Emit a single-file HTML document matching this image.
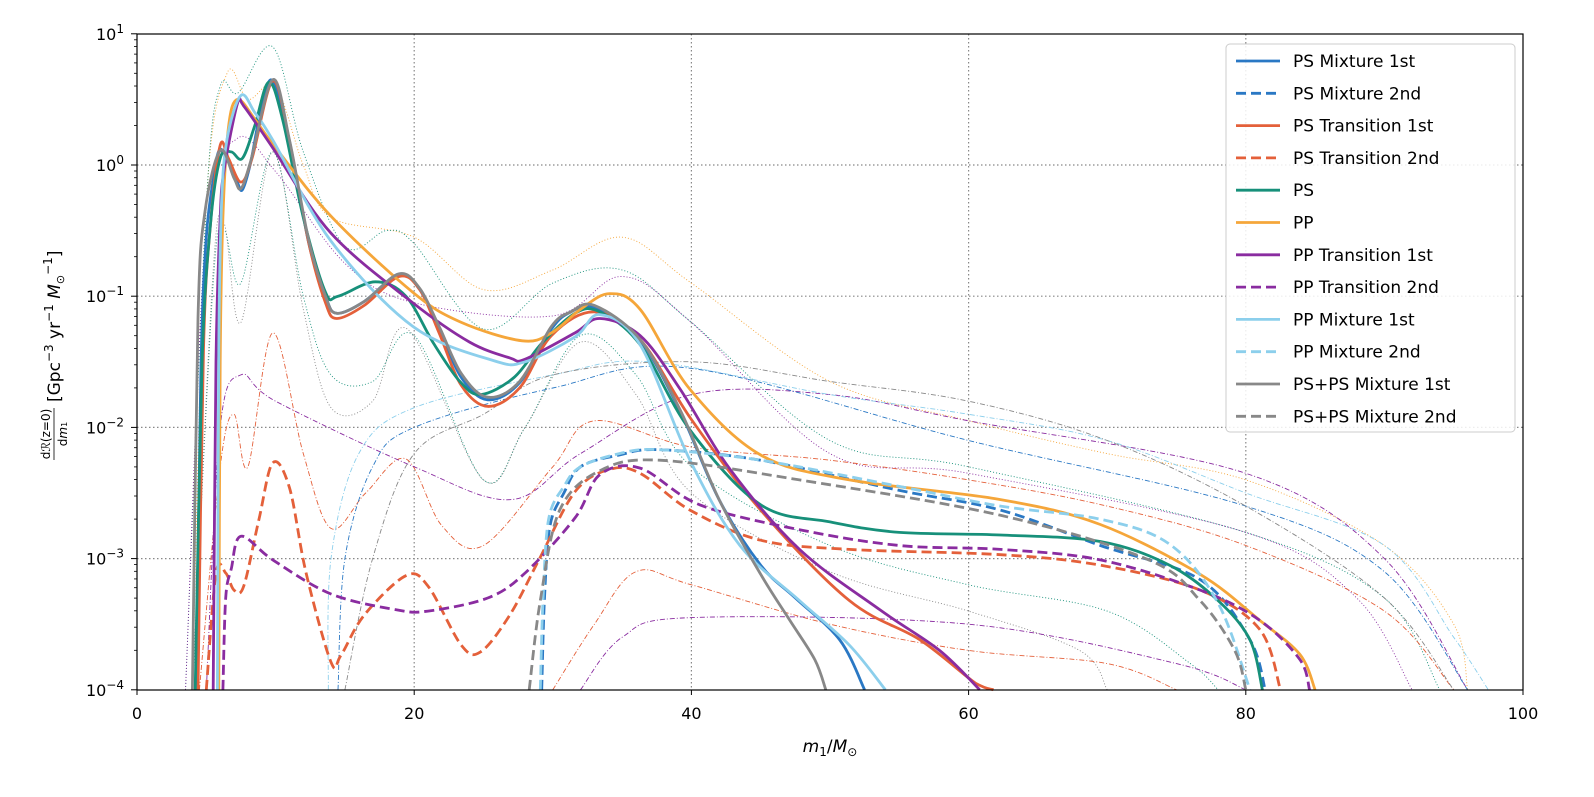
<!DOCTYPE html>
<html><head><meta charset="utf-8"><style>
html,body{margin:0;padding:0;background:#fff;overflow:hidden;width:1594px;height:797px;}
svg{display:block;position:absolute;left:0;top:0;font-family:"DejaVu Sans","Liberation Sans",sans-serif;}
</style></head><body>
<svg id="chart" width="1594" height="797" viewBox="0 0 1594 797">
<g id="grid"></g>
<g id="thin"></g>
<g id="main"></g>
<rect x="137" y="34" width="1386" height="656" fill="none" stroke="#000" stroke-width="1.2"/>
<g id="axes"></g>
<text x="830" y="752" font-size="17" text-anchor="middle"><tspan font-style="italic">m</tspan><tspan font-size="12" dy="4">1</tspan><tspan dy="-4">/</tspan><tspan font-style="italic">M</tspan><tspan font-size="12" dy="4">⊙</tspan></text>
<g transform="translate(50,362) rotate(-90)">
<text x="-72" y="0" font-size="12" text-anchor="middle">d<tspan font-style="italic">ℛ</tspan>(z=0)</text>
<line x1="-98" y1="4" x2="-46" y2="4" stroke="#000" stroke-width="0.8"/>
<text x="-72" y="17" font-size="12" text-anchor="middle">d<tspan font-style="italic">m</tspan><tspan font-size="8">1</tspan></text>
<text x="-40" y="10" font-size="17">[Gpc<tspan font-size="12" dy="-7">−3</tspan><tspan dy="7"> yr</tspan><tspan font-size="12" dy="-7">−1</tspan><tspan dy="7"> </tspan><tspan font-style="italic">M</tspan><tspan font-size="11" dy="4">⊙</tspan><tspan font-size="12" dy="-12">−1</tspan><tspan dy="8">]</tspan></text>
</g>
<g id="legend"></g>
</svg>
<script>
const xTicks=[0,20,40,60,80,100];
const yExps=[1,0,-1,-2,-3,-4];
// series: [mass, log10(rate)]
const psMix1=[[4.3,-4],[4.6,-1.6],[5,-0.55],[5.6,-0.05],[6,0.12],[6.6,0.02],[7.2,-0.12],[7.6,-0.19],[8.2,0.02],[9.0,0.45],[9.8,0.64],[11,0.18],[12.4,-0.6],[13.6,-1.0],[14.4,-1.13],[16.4,-1.04],[18.9,-0.83],[20.4,-0.95],[21.8,-1.25],[23.4,-1.62],[25.3,-1.79],[27.6,-1.66],[29.9,-1.25],[31.3,-1.12],[33,-1.09],[36.3,-1.34],[39.2,-1.88],[42,-2.55],[45,-3.05],[47.5,-3.3],[50.7,-3.62],[52.5,-4]];
const psMix2=[[29.2,-4],[29.4,-3.3],[29.8,-2.75],[30.8,-2.5],[32,-2.3],[34.8,-2.21],[37.7,-2.17],[45,-2.25],[55,-2.48],[62.3,-2.63],[69.5,-2.9],[76.7,-3.16],[80.3,-3.62],[81.4,-4]];
const psTr1=[[4.4,-4],[4.8,-1.4],[5.3,-0.45],[6,0.15],[6.6,0.05],[7.5,-0.13],[8.3,0.05],[9.8,0.64],[11,0.18],[12.4,-0.6],[13.6,-1.05],[14.4,-1.17],[16.4,-1.07],[18.9,-0.85],[20.4,-0.95],[21.8,-1.28],[23.4,-1.68],[25.3,-1.84],[27.6,-1.7],[29.9,-1.3],[33,-1.12],[36.3,-1.33],[40,-1.94],[45,-2.63],[51.4,-3.32],[56.5,-3.62],[60.5,-3.95],[61.8,-4]];
const psTr2=[[5,-4],[5.7,-3.11],[6.4,-3.11],[7,-3.24],[7.7,-3.21],[8.8,-2.7],[9.8,-2.27],[11,-2.46],[12.2,-3.11],[14,-3.79],[14.7,-3.74],[16.4,-3.43],[19.4,-3.13],[21,-3.21],[23.4,-3.66],[24.8,-3.71],[26.9,-3.43],[29,-3.01],[31.6,-2.49],[34.1,-2.32],[36.3,-2.35],[39.9,-2.63],[45,-2.86],[51.4,-2.93],[62.3,-2.97],[69.5,-3.05],[76.7,-3.24],[81,-3.54],[82.5,-4]];
const ps=[[4.2,-4],[4.7,-1.5],[5.3,-0.45],[6,0.05],[6.8,0.1],[7.6,0.05],[8.5,0.3],[9.5,0.63],[10.5,0.35],[12,-0.4],[13.6,-0.97],[14.5,-1.0],[17.2,-0.89],[19.4,-1.0],[21.4,-1.36],[23.3,-1.65],[24.8,-1.75],[27.2,-1.62],[29.2,-1.36],[31.6,-1.13],[33.4,-1.12],[36.3,-1.37],[39.9,-2.02],[45,-2.59],[50,-2.72],[55,-2.8],[62.3,-2.82],[69.5,-2.87],[74.5,-3.05],[78,-3.32],[80.3,-3.62],[81.2,-4]];
const pp=[[5.9,-4],[6.0,-1.5],[6.2,-0.4],[6.6,0.29],[7.25,0.5],[8.5,0.35],[9.8,0.16],[14,-0.39],[19.9,-0.97],[23.4,-1.2],[27.8,-1.34],[29.9,-1.28],[32,-1.1],[34.1,-0.98],[36.3,-1.1],[39.9,-1.71],[45,-2.21],[51.4,-2.4],[62.3,-2.55],[69.5,-2.74],[76.7,-3.12],[81,-3.47],[83.9,-3.73],[85,-4]];
const ppTr1=[[5.5,-4],[5.7,-1.5],[6.0,-0.4],[6.3,-0.03],[7.25,0.47],[7.7,0.45],[9.8,0.13],[14,-0.52],[19.9,-1.05],[24,-1.35],[26.9,-1.47],[28,-1.48],[31.6,-1.28],[33.4,-1.17],[36.3,-1.3],[39.2,-1.71],[42.8,-2.32],[47.8,-2.93],[53.6,-3.39],[57.9,-3.7],[60.8,-4]];
const ppTr2=[[6.2,-4],[6.4,-3.3],[6.8,-3.08],[7.5,-2.83],[9.8,-3.01],[14,-3.27],[18.7,-3.39],[21,-3.4],[25.3,-3.3],[28,-3.11],[31.6,-2.69],[33.4,-2.36],[36.3,-2.31],[40.6,-2.59],[47.8,-2.78],[55,-2.9],[62.3,-2.93],[69.5,-3.01],[76.7,-3.24],[81,-3.47],[83.9,-3.77],[84.6,-4]];
const ppMix1=[[5.8,-4],[5.9,-1.4],[6.1,-0.3],[6.5,0.2],[7.5,0.53],[8.5,0.4],[9.8,0.19],[14,-0.58],[19.9,-1.23],[25.7,-1.49],[28,-1.5],[31.6,-1.31],[33.4,-1.14],[36.3,-1.37],[39.9,-2.25],[43.5,-2.9],[47.8,-3.32],[51.4,-3.66],[54,-4]];
const ppMix2=[[29.1,-4],[29.3,-3.3],[29.7,-2.7],[30.8,-2.45],[32,-2.3],[34.8,-2.2],[37.7,-2.17],[45,-2.25],[55,-2.45],[62.3,-2.6],[69.5,-2.7],[74.5,-2.89],[78,-3.34],[80.3,-4]];
const psps1=[[4.0,-4],[4.4,-1.17],[4.9,-0.36],[6.0,0.11],[7.0,-0.1],[7.5,-0.18],[8.2,0.03],[9.8,0.65],[11,0.19],[12.4,-0.58],[13.6,-1.0],[14.4,-1.13],[16.4,-1.04],[18.9,-0.83],[20.4,-0.94],[21.8,-1.23],[23.4,-1.59],[25.3,-1.77],[27.6,-1.65],[29.9,-1.23],[31.3,-1.12],[33,-1.07],[36.3,-1.33],[39.2,-1.87],[42,-2.55],[45,-3.12],[47.1,-3.47],[48.9,-3.77],[49.7,-4]];
const psps2=[[28.3,-4],[29.1,-3.32],[30.5,-2.63],[33.4,-2.33],[37.7,-2.25],[47.8,-2.4],[62.3,-2.67],[73,-3.01],[76.7,-3.32],[79.2,-3.7],[80,-4]];
// thin band lines
const thinOrangeUp=[[4,-4],[5,-0.3],[6.5,0.7],[8,0.5],[10,0.6],[12,0.0],[14,-0.4],[20,-0.55],[25,-0.95],[30,-0.8],[35,-0.55],[40,-0.9],[50,-1.65],[60,-1.95],[70,-2.2],[80,-2.4],[90,-2.9],[95,-3.5],[96,-4]];
const thinGreenUp=[[3.5,-4],[5,-0.3],[6,0.6],[7.3,0.55],[9.8,0.9],[12,0.1],[15,-0.62],[18,-0.5],[20,-0.6],[25,-1.25],[30,-0.9],[35,-0.8],[40,-1.2],[50,-2.1],[60,-2.3],[80,-2.8],[90,-3.3],[94,-4]];
const thinGreenLo=[[4,-4],[5.5,-0.9],[6.3,-0.5],[7.5,-0.9],[9.8,0.1],[12,-1.0],[14,-1.6],[17,-1.65],[20,-1.3],[25,-2.4],[28,-2.0],[32,-1.3],[36,-1.6],[40,-2.3],[50,-2.9],[60,-3.2],[70,-3.4],[76,-3.8],[78,-4]];
const thinGrayLo=[[4,-4],[5.5,-0.8],[6.3,-0.45],[7.5,-1.2],[9.8,0.1],[12,-1.1],[14,-1.85],[17,-1.8],[19.5,-1.25],[25,-2.4],[28,-2.0],[32,-1.35],[36,-1.75],[40,-2.5],[50,-3.1],[60,-3.4],[68,-3.7],[70,-4]];
const thinPurpleMid=[[3.5,-4],[5,-0.5],[7.2,0.2],[10,-0.05],[15,-0.75],[20,-1.05],[30,-1.15],[35,-0.85],[40,-1.2],[50,-2.2],[60,-2.35],[80,-2.8],[88,-3.3],[92,-4]];
const thinOrangeDd=[[4.5,-4],[6,-2.3],[7,-1.9],[8,-2.3],[9.8,-1.28],[12,-2.2],[14,-2.77],[16.5,-2.5],[19.4,-2.24],[22,-2.75],[25,-2.9],[30,-2.3],[33,-1.95],[40,-2.15],[50,-2.25],[60,-2.4],[70,-2.6],[80,-2.9],[90,-3.4],[95,-4]];
const thinPurpleDd=[[5,-4],[6,-2.0],[7.5,-1.6],[10,-1.8],[20,-2.3],[27,-2.55],[32,-2.2],[40,-1.75],[50,-1.75],[60,-1.95],[80,-2.35],[90,-3.0],[96,-4]];
const thinLblueDd=[[13.8,-4],[14,-3],[16,-2.2],[20,-1.85],[30,-1.6],[37,-1.5],[50,-1.75],[60,-1.9],[70,-2.1],[80,-2.5],[90,-2.9],[95,-3.6],[97.5,-4]];
const thinBlueDd=[[14.5,-4],[15,-3],[17,-2.3],[20,-2.0],[30,-1.7],[40,-1.55],[60,-2.1],[80,-2.6],[90,-3.1],[96,-4]];
const thinGrayDd=[[15,-4],[17,-3],[20,-2.2],[25,-1.9],[30,-1.6],[40,-1.5],[50,-1.65],[60,-1.8],[70,-2.1],[80,-2.6],[90,-3.3],[95,-4]];
const thinOrangeLo=[[30,-4],[33,-3.5],[36,-3.1],[40,-3.2],[50,-3.5],[60,-3.7],[70,-3.8],[75,-4]];
const thinPurpleLo=[[32,-4],[35,-3.6],[40,-3.45],[60,-3.5],[75,-3.8],[80,-4]];

const NS='http://www.w3.org/2000/svg';
const X=m=>137+m*13.86, Y=l=>165-l*131.2;
function mk(tag,attrs,parent){const e=document.createElementNS(NS,tag);for(const k in attrs)e.setAttribute(k,attrs[k]);parent.appendChild(e);return e;}
function pathD(pts){const p=pts.map(a=>[X(a[0]),Math.min(Y(a[1]),690)]);let d='M'+p[0][0].toFixed(1)+','+p[0][1].toFixed(1);
for(let i=0;i<p.length-1;i++){const p0=p[i-1]||p[i],p1=p[i],p2=p[i+1],p3=p[i+2]||p2;
const c1=[p1[0]+(p2[0]-p0[0])/6,p1[1]+(p2[1]-p0[1])/6],c2=[p2[0]-(p3[0]-p1[0])/6,p2[1]-(p3[1]-p1[1])/6];
d+=` C${c1[0].toFixed(1)},${Math.min(c1[1],690).toFixed(1)} ${c2[0].toFixed(1)},${Math.min(c2[1],690).toFixed(1)} ${p2[0].toFixed(1)},${p2[1].toFixed(1)}`;}return d;}
const grid=document.getElementById('grid'),axes=document.getElementById('axes');
xTicks.forEach(t=>{
 if(t>0&&t<100){const g=mk('line',{x1:X(t),x2:X(t),y1:34,y2:690,stroke:'#888',"stroke-width":1.2,"stroke-dasharray":'1.5,2.5'},grid);}
 const tk=mk('line',{x1:X(t),x2:X(t),y1:690,y2:695,stroke:'#000'},axes);
 const tx=mk('text',{x:X(t),y:719,"font-size":16,"text-anchor":'middle'},axes);tx.textContent=t;
});
yExps.forEach(e=>{
 if(e<1&&e>-4){const g=mk('line',{x1:137,x2:1523,y1:Y(e),y2:Y(e),stroke:'#888',"stroke-width":1.2,"stroke-dasharray":'1.5,2.5'},grid);}
 const tk=mk('line',{x1:131,x2:137,y1:Y(e),y2:Y(e),stroke:'#000'},axes);
 if(e>-4){for(let k=2;k<10;k++){const yy=Y(e-1+Math.log10(k));const mt=mk('line',{x1:134,x2:137,y1:yy,y2:yy,stroke:'#000',"stroke-width":0.8},axes);}}
 const tx=mk('text',{x:124,y:Y(e)+6,"font-size":16,"text-anchor":'end'},axes);
 tx.innerHTML='10<tspan font-size="12" dy="-7">'+(e<0?'−'+(-e):e)+'</tspan>';
 
});
const C={blue:'#2a78c4',red:'#e4603a',green:'#17907a',orange:'#f5a63a',purple:'#8a2ca0',lblue:'#8ccfec',gray:'#888888'};
const thin=document.getElementById('thin');
[[thinOrangeUp,C.orange,'1,2'],[thinGreenUp,C.green,'1,2'],[thinGreenLo,C.green,'1,2'],[thinGrayLo,C.gray,'1,2'],[thinPurpleMid,C.purple,'1,2'],
 [thinOrangeDd,C.red,'5,2,1,2'],[thinPurpleDd,C.purple,'5,2,1,2'],[thinLblueDd,C.lblue,'5,2,1,2'],[thinBlueDd,C.blue,'5,2,1,2'],[thinGrayDd,C.gray,'5,2,1,2'],[thinOrangeLo,C.red,'5,2,1,2'],[thinPurpleLo,C.purple,'5,2,1,2']].forEach(s=>{
 const p=mk('path',{d:pathD(s[0]),fill:'none',stroke:s[1],"stroke-width":0.9,"stroke-dasharray":s[2]},thin);
 
});
const series=[
 ['PS Mixture 1st',psMix1,C.blue,false],['PS Mixture 2nd',psMix2,C.blue,true],
 ['PS Transition 1st',psTr1,C.red,false],['PS Transition 2nd',psTr2,C.red,true],
 ['PS',ps,C.green,false],['PP',pp,C.orange,false],
 ['PP Transition 1st',ppTr1,C.purple,false],['PP Transition 2nd',ppTr2,C.purple,true],
 ['PP Mixture 1st',ppMix1,C.lblue,false],['PP Mixture 2nd',ppMix2,C.lblue,true],
 ['PS+PS Mixture 1st',psps1,C.gray,false],['PS+PS Mixture 2nd',psps2,C.gray,true]];
const main=document.getElementById('main'),leg=document.getElementById('legend');
series.forEach(s=>{
 const p=mk('path',{d:pathD(s[1]),fill:'none',stroke:s[2],"stroke-width":2.8,"stroke-linejoin":'round'},main);
 if(s[3])p.setAttribute('stroke-dasharray','10,5');
 
});
const box=mk('rect',{x:1226,y:44,width:289,height:388,rx:4,fill:'#fff',"fill-opacity":0.85,stroke:'#ccc'},leg);

series.forEach((s,i)=>{
 const y=61+i*32.3;
 const l=mk('line',{x1:1236,x2:1280,y1:y,y2:y,stroke:s[2],"stroke-width":2.8},leg);
 if(s[3])l.setAttribute('stroke-dasharray','10,5');
 
 const t=mk('text',{x:1293,y:y+6,"font-size":17},leg);t.textContent=s[0];
 
});
</script>
</body></html>
